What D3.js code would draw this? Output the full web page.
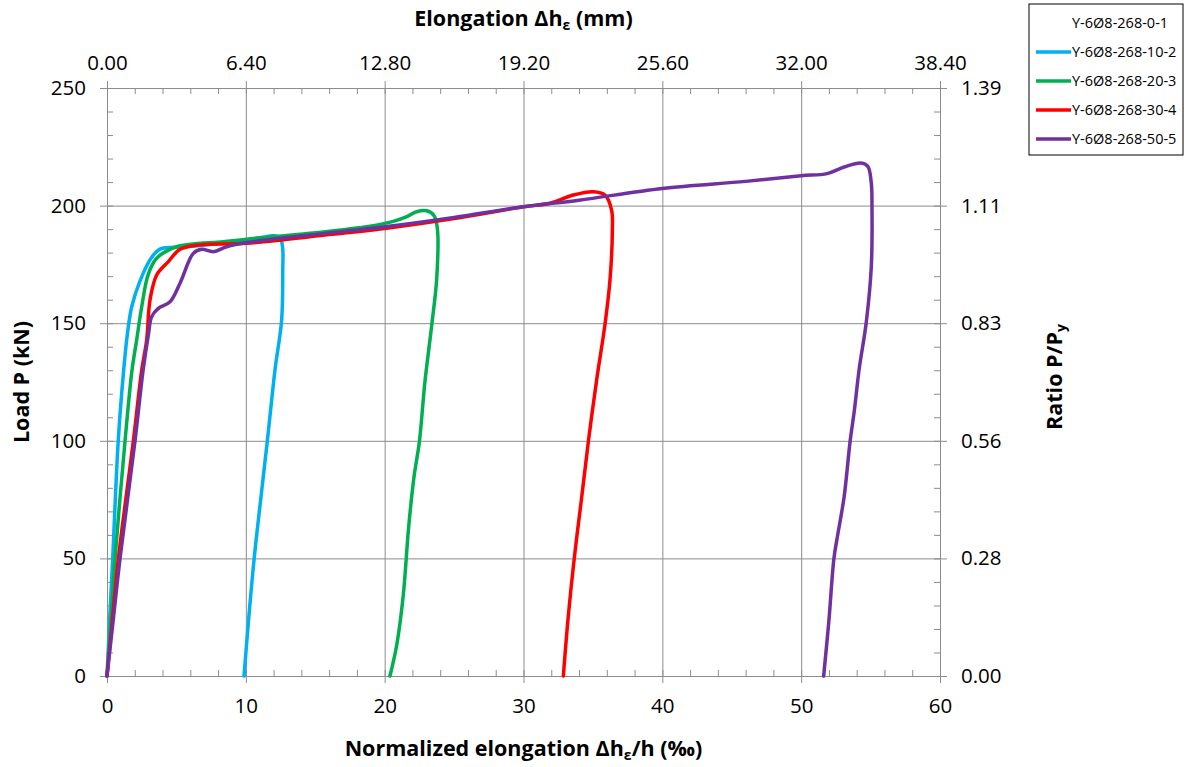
<!DOCTYPE html>
<html lang="en">
<head>
    <meta charset="UTF-8">
    <title>Load - elongation</title>
    <script src="https://cdn.jsdelivr.net/npm/d3@7/dist/d3.min.js"></script>
    <style>
        body { margin: 0; background: #ffffff; }
        text { font-family: "Open Sans", "Noto Sans", sans-serif; fill: #000; }
        .grid line { stroke: #8c8c8c; stroke-width: 1; }
        .grid path { display: none; }
        .axis path, .axis line { stroke: #8c8c8c; stroke-width: 1; }
        .axis text { font-size: 20.5px; }
        .minor path { display: none; }
        .minor line { stroke: #8c8c8c; stroke-width: 1; }
        .title { font-size: 21.5px; font-weight: bold; }
        .CURVE { fill: none; stroke-width: 3.5; stroke-linejoin: round; stroke-linecap: round; }
    </style>
</head>
<body>

<div id="main" style="width: 1190px; height: 767px"></div>

<script>
    // series names + colors (first one has no visible line)
    const seriesNames = ['Y-6Ø8-268-0-1', 'Y-6Ø8-268-10-2', 'Y-6Ø8-268-20-3', 'Y-6Ø8-268-30-4', 'Y-6Ø8-268-50-5'];
    const seriesColors = ['#ffffff', '#00b0f0', '#00b050', '#ff0000', '#7030a0'];

    // normalized elongation (‰) / load (kN)
    const strain01 = [];
    const load01 = [];

    const strain10 = [0, 0.2, 0.41, 0.81, 1.2, 1.46, 1.78, 2.38, 3.22, 3.82, 4.78, 6.7, 8.5, 10.06, 11.2, 11.98,
        12.46, 12.65, 12.66, 12.58, 12.1, 11.55, 11.05, 10.6, 10.2, 9.87];
    const load10 = [0, 25, 50, 100, 130, 145, 157, 168, 178, 181.5, 182.3, 183, 184.3, 185.4, 186.5, 187.2,
        186.3, 182, 172.6, 151.4, 130.1, 100, 74, 50, 24, 0];

    const strain20 = [0, 0.3, 0.58, 1.3, 1.8, 2.14, 2.5, 2.98, 3.58, 5.02, 8.38, 10.06, 14.6, 18.94, 20.62, 21.6,
        22.3, 23.03, 23.55, 23.8, 23.75, 23.39, 22.9, 22.5, 22.1, 21.72, 21.34, 20.87, 20.38];
    const load20 = [0, 25, 50, 100, 130, 143, 157, 171, 177.6, 182.5, 184.6, 185.7, 188.2, 191.2, 193.3, 195.3,
        197.4, 197.8, 195.8, 190, 169.1, 149.2, 125.1, 99.6, 84.1, 62.8, 34.4, 13.2, 0];

    const strain30 = [0, 0.4, 0.82, 1.9, 2.5, 2.86, 3.1, 3.58, 4.42, 5.26, 6.7, 10.06, 14.6, 20, 25, 30, 31.91,
        33.59, 35.03, 35.87, 36.35, 36.4, 36.23, 35.87, 35.27, 34.67, 34.15, 33.65, 33.22, 32.87];
    const load30 = [0, 25, 50, 100, 130, 143, 160, 170.5, 176.2, 181.4, 183.3, 184, 186.8, 190.3, 194.5, 199.5, 201,
        204.5, 205.9, 204.5, 198, 189.6, 168.4, 149.5, 125.9, 99.6, 74, 49.7, 25, 0];

    const strain50 = [0, 0.47, 0.94, 2.02, 2.6, 2.98, 3.22, 3.7, 4.54, 5.26, 6.22, 6.82, 7.66, 8.62, 10.06, 14.6,
        20, 25, 30, 34, 40, 46, 50, 51.87, 53.1, 54.3, 54.8, 55.05, 55.1, 55.05, 54.68, 54.19, 53.82, 53.53,
        53.09, 52.6, 52.36, 51.99, 51.62];
    const load50 = [0, 25, 50, 100, 130, 145, 152.8, 156.3, 159.1, 167, 179.7, 181.4, 180.4, 182.5, 184.3, 187.5,
        191, 195, 199.5, 202.3, 207.3, 210.3, 212.7, 213.6, 216.4, 218.1, 216.7, 209.6, 200, 173.9, 150, 131,
        112.4, 100, 76, 58.9, 50, 23, 0];

    // axis ticks
    const xTicks = [0, 10, 20, 30, 40, 50, 60];
    const yTicks = [0, 50, 100, 150, 200, 250];
    const hGauge = 640;   // mm  (60‰ -> 38.40 mm)
    const Py = 180;       // kN  (250 kN -> 1.39)

    const strains = [strain01, strain10, strain20, strain30, strain50];
    const loads = [load01, load10, load20, load30, load50];

    /**
     * 1. svg + scales
     * */
    const svg = d3.select('#main')
        .append('svg')
        .attr('width', 1190)
        .attr('height', 767);

    const pLeft = 107, pRight = 940, pTop = 88, pBottom = 676;

    const x = d3.scaleLinear().domain([0, 60]).range([pLeft, pRight]);
    const y = d3.scaleLinear().domain([0, 250]).range([pBottom, pTop]);
    const xTop = d3.scaleLinear().domain([0, 60 * hGauge / 1000]).range([pLeft, pRight]);
    const yRight = d3.scaleLinear().domain([0, 250 / Py]).range([pBottom, pTop]);

    // gridlines
    svg.append('g').attr('class', 'grid')
        .attr('transform', `translate(0,${pBottom})`)
        .call(d3.axisBottom(x).tickValues(xTicks).tickSize(-(pBottom - pTop)).tickFormat(''));
    svg.append('g').attr('class', 'grid')
        .attr('transform', `translate(${pLeft},0)`)
        .call(d3.axisLeft(y).tickValues(yTicks).tickSize(-(pRight - pLeft)).tickFormat(''));

    // minor ticks (inside)
    const minorX = d3.range(0, 61, 2);
    const minorY = d3.range(0, 251, 10);
    svg.append('g').attr('class', 'minor')
        .attr('transform', `translate(0,${pBottom})`)
        .call(d3.axisBottom(x).tickValues(minorX).tickSize(-6).tickFormat(''));
    svg.append('g').attr('class', 'minor')
        .attr('transform', `translate(0,${pTop})`)
        .call(d3.axisTop(x).tickValues(minorX).tickSize(-6).tickFormat(''));
    svg.append('g').attr('class', 'minor')
        .attr('transform', `translate(${pLeft},0)`)
        .call(d3.axisLeft(y).tickValues(minorY).tickSize(-6).tickFormat(''));
    svg.append('g').attr('class', 'minor')
        .attr('transform', `translate(${pRight},0)`)
        .call(d3.axisRight(y).tickValues(minorY).tickSize(-6).tickFormat(''));

    // main axes
    svg.append('g').attr('class', 'axis')
        .attr('transform', `translate(0,${pBottom})`)
        .call(d3.axisBottom(x).tickValues(xTicks).tickSize(7).tickSizeOuter(0).tickPadding(15));
    svg.append('g').attr('class', 'axis')
        .attr('transform', `translate(0,${pTop})`)
        .call(d3.axisTop(xTop).tickValues(xTicks.map(d => d * hGauge / 1000)).tickSize(7).tickSizeOuter(0)
            .tickPadding(11).tickFormat(d3.format('.2f')));
    svg.append('g').attr('class', 'axis')
        .attr('transform', `translate(${pLeft},0)`)
        .call(d3.axisLeft(y).tickValues(yTicks).tickSize(7).tickSizeOuter(0).tickPadding(14));
    svg.append('g').attr('class', 'axis')
        .attr('transform', `translate(${pRight},0)`)
        .call(d3.axisRight(yRight).tickValues(yTicks.map(d => d / Py)).tickSize(7).tickSizeOuter(0)
            .tickPadding(14).tickFormat(d3.format('.2f')));

    /**
     * 2. curves
     * */
    const line = d3.line()
        .x(d => x(d[0]))
        .y(d => y(d[1]))
        .curve(d3.curveCatmullRom.alpha(0.5));

    strains.forEach((s, i) => {
        if (!s.length) return;
        const pts = s.map((v, k) => [v, loads[i][k]]);
        svg.append('path')
            .attr('class', 'CURVE')
            .attr('d', line(pts))
            .style('stroke', seriesColors[i]);
    });

    /**
     * 3. titles
     * */
    const topTitle = svg.append('text').attr('class', 'title')
        .attr('x', (pLeft + pRight) / 2).attr('y', 26).attr('text-anchor', 'middle');
    topTitle.append('tspan').text('Elongation Δh');
    topTitle.append('tspan').text('ε').attr('font-size', '14px').attr('dy', 4);
    topTitle.append('tspan').text(' (mm)').attr('dy', -4);

    const botTitle = svg.append('text').attr('class', 'title')
        .attr('x', (pLeft + pRight) / 2).attr('y', 756).attr('text-anchor', 'middle');
    botTitle.append('tspan').text('Normalized elongation Δh');
    botTitle.append('tspan').text('ε').attr('font-size', '14px').attr('dy', 4);
    botTitle.append('tspan').text('/h (‰)').attr('dy', -4);

    svg.append('text').attr('class', 'title')
        .attr('transform', `translate(29,${(pTop + pBottom) / 2}) rotate(-90)`)
        .attr('text-anchor', 'middle')
        .text('Load P (kN)');

    const rightTitle = svg.append('text').attr('class', 'title')
        .attr('transform', `translate(1062,${(pTop + pBottom) / 2 - 5}) rotate(-90)`)
        .attr('text-anchor', 'middle');
    rightTitle.append('tspan').text('Ratio P/P');
    rightTitle.append('tspan').text('y').attr('font-size', '14px').attr('dy', 4);

    /**
     * 4. legend
     * */
    const legend = svg.append('g').attr('transform', 'translate(1029,4)');
    legend.append('rect')
        .attr('width', 154).attr('height', 151)
        .attr('fill', '#fff').attr('stroke', '#000').attr('stroke-width', 1);

    const item = legend.selectAll('g.item')
        .data(seriesNames)
        .enter()
        .append('g')
        .attr('class', 'item')
        .attr('transform', (d, i) => `translate(0,${19 + i * 29})`);

    item.append('line')
        .attr('x1', 7).attr('x2', 42)
        .attr('stroke', (d, i) => seriesColors[i])
        .attr('stroke-width', 3.5);

    item.append('text')
        .attr('x', 43).attr('dy', '0.35em')
        .style('font-size', '14.5px')
        .text(d => d);
</script>

</body>
</html>
